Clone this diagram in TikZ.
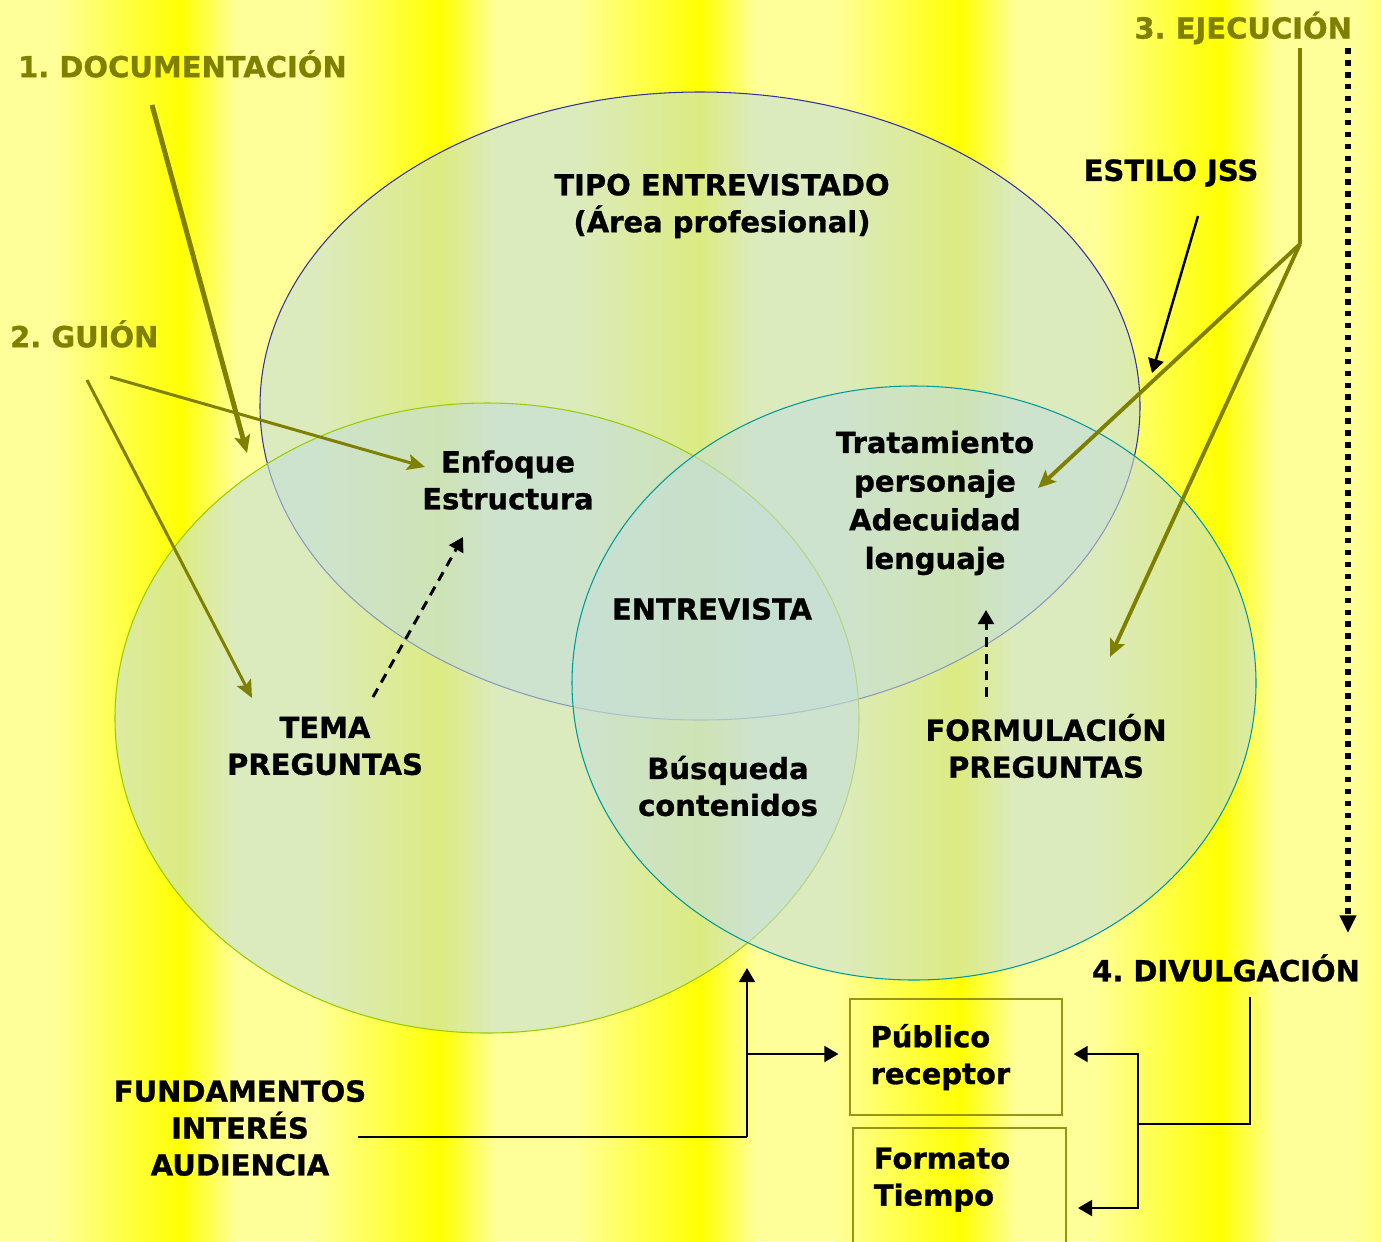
\documentclass[tikz,border=0pt]{standalone}
\usepackage{fontspec}
\setmainfont{DejaVu Sans}[BoldFeatures={FakeBold=1}]
\usetikzlibrary{arrows.meta}
\frenchspacing

\definecolor{stripeY}{RGB}{255,255,0}
\definecolor{stripeP}{RGB}{255,255,153}
\definecolor{oliv}{RGB}{128,128,0}
\definecolor{boxcol}{RGB}{150,150,20}
\definecolor{venn}{RGB}{197,222,215}
\definecolor{vennA}{RGB}{51,51,153}
\definecolor{vennB}{RGB}{153,204,0}
\definecolor{vennC}{RGB}{0,153,153}

\tikzset{
  lbl/.style={font=\fontsize{16.5pt}{21pt}\selectfont\bfseries, align=center, inner sep=1pt},
  stage/.style={lbl, text=oliv},
  vennset/.style={fill=venn, fill opacity=0.6, line width=0.6pt},
  boxline/.style={draw=boxcol, line width=1.2pt},
  pbox/.style={lbl, align=left, anchor=north west,
    text width=3.42cm, inner xsep=0.41cm, minimum height=2.32cm},
  olarrow/.style={draw=oliv, line width=1.7pt, -{Stealth[length=10pt,width=9pt,inset=2pt]}},
  blk/.style={line width=1.4pt},
  blkarrow/.style={blk, -{Triangle[length=8pt,width=9pt]}}
}

\begin{document}
\begin{tikzpicture}[x=0.02cm,y=-0.02cm]
	\useasboundingbox (0,0) rectangle (1381,1241);
	% background stripes
	\foreach \x in {-80,180,440,700,960,1220}{
		\shade[left color=stripeY,right color=stripeP] (\x,0) rectangle (\x+56,1241);
		\fill[stripeP] (\x+55,0) rectangle (\x+136,1241);
		\shade[left color=stripeP,right color=stripeY] (\x+135,0) rectangle (\x+261,1241);
	}

	% the three sets
	\draw[vennset, draw=vennA] (700,406) ellipse [x radius=440, y radius=314];
	\draw[vennset, draw=vennB] (487,718) ellipse [x radius=372, y radius=315];
	\draw[vennset, draw=vennC] (914,683) ellipse [x radius=342, y radius=297];

	\begin{scope}
		\node[stage, anchor=west] (doc) at (16,64) {1. DOCUMENTACIÓN};
		\node[stage, anchor=west] (guion) at (8,334) {2. GUIÓN};
		\node[stage, anchor=east] (ejec) at (1354,28) {3. EJECUCIÓN};
		\node[lbl, anchor=west] (divul) at (1090,968) {4. DIVULGACIÓN};
		\node[lbl] (estilo) at (1171,173) {ESTILO JSS};

		\node[lbl] (tipo) at (722,206) {TIPO ENTREVISTADO\\(Área profesional)};
		\node[lbl] (enf) at (508,480) {Enfoque\\Estructura};
		\node[lbl, font=\fontsize{16.5pt}{22pt}\selectfont\bfseries] (trat) at (935,503) {Tratamiento\\personaje\\Adecuidad\\lenguaje};
		\node[lbl] (entr) at (712,609) {ENTREVISTA};
		\node[lbl] (tema) at (325,746) {TEMA\\PREGUNTAS};
		\node[lbl] (busq) at (728,786) {Búsqueda\\contenidos};
		\node[lbl] (form) at (1046,746) {FORMULACIÓN\\PREGUNTAS};
		\node[lbl] (fund) at (240,1128) {FUNDAMENTOS\\INTERÉS\\AUDIENCIA};

		\node[pbox, boxline] (pub) at (849,998) {Público\\receptor};
		\node[pbox, minimum height=2.05cm] (fmt) at (853,1128) {Formato\\Tiempo};
		\draw[boxline] (fmt.north west) rectangle ([yshift=-0.6cm]fmt.south east);

		\coordinate (docS) at (152,105);
		\coordinate (docT) at (247,453);
		\coordinate (guiS1) at (110,377);
		\coordinate (guiT1) at (425,467);
		\coordinate (guiS2) at (87,380);
		\coordinate (guiT2) at (252,698);
		\coordinate (ejS) at (1300,48);
		\coordinate (ejJ) at (1300,244);
		\coordinate (ejT1) at (1038,488);
		\coordinate (ejT2) at (1110,657);
		\coordinate (estS) at (1198,216);
		\coordinate (estT) at (1152,373);
		\coordinate (dotS) at (1348,48);
		\coordinate (dotT) at (1348,933);
		\coordinate (temS) at (373,697);
		\coordinate (temT) at (463,537);
		\coordinate (forS) at (986,697);
		\coordinate (forT) at (986,610);
		\coordinate (fundS) at (358,1137);
		\coordinate (fJ) at (747,1137);
		\coordinate (fT) at (747,968);
		\coordinate (fM) at (747,1054);
		\coordinate (dvS) at (1250,997);
		\coordinate (dvJ) at (1138,1124);

		\draw[olarrow, line width=2.8pt] (docS) -- (docT);
		\draw[olarrow] (guiS1) -- (guiT1);
		\draw[olarrow] (guiS2) -- (guiT2);
		\draw[draw=oliv, line width=2.5pt] (ejS) -- (ejJ);
		\draw[olarrow, line width=2.2pt] (ejJ) -- (ejT1);
		\draw[olarrow, line width=2.2pt] (ejJ) -- (ejT2);
		\draw[blkarrow] (estS) -- (estT);
		\draw[line width=3.2pt, dash pattern=on 3.2pt off 3.6pt, -{Triangle[length=10pt,width=9pt]}] (dotS) -- (dotT);
		\draw[blkarrow, line width=1.7pt, dash pattern=on 5.5pt off 4pt] (temS) -- (temT);
		\draw[blkarrow, line width=1.7pt, dash pattern=on 5.5pt off 4pt] (forS) -- (forT);

		\draw[blk] (fundS) -- (fJ);
		\draw[blkarrow] (fJ) -- (fT);
		\draw[blkarrow, shorten >=6pt] (fM) -- (fM -| pub.west);
		\draw[blk] (dvS) |- (dvJ);
		\draw[blkarrow, shorten >=6pt] (dvJ) |- (pub.east |- fM);
		\draw[blkarrow, shorten >=7pt] (dvJ) |- (fmt.east |- 0,1208);
	\end{scope}
\end{tikzpicture}
\end{document}
